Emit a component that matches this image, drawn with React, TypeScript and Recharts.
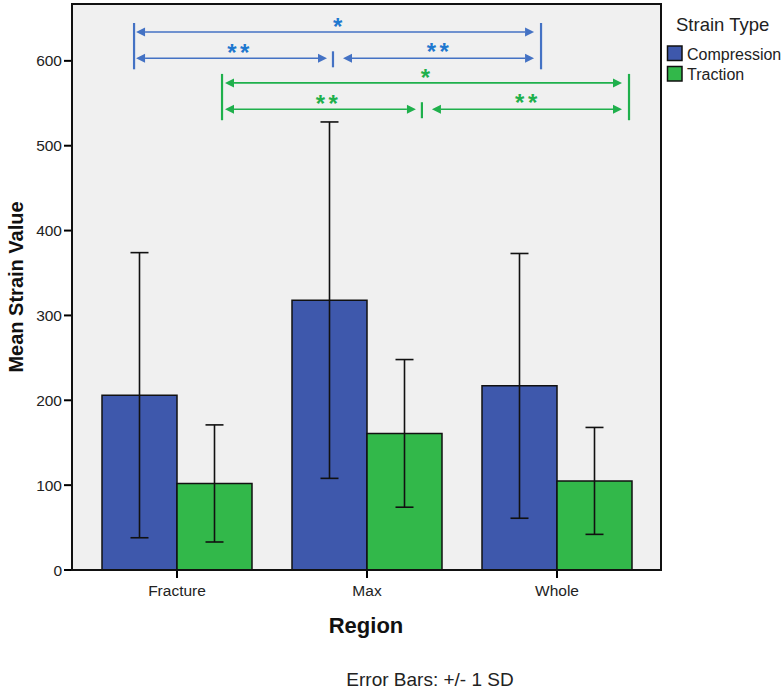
import React from "react";
import { Bar, BarChart, CartesianGrid, ErrorBar, XAxis, YAxis } from "recharts";

const regions = ["Fracture", "Max", "Whole"];
const compressionMean = [206, 318, 217];
const compressionSD = [168, 210, 156];
const tractionMean = [102, 161, 105];
const tractionSD = [69, 87, 63];
const yTicks = [0, 100, 200, 300, 400, 500, 600];
const yMax = 667;

// significance brackets: tick positions in category units, rows in data units
const blueTicks = [-0.226, 0.821, 1.916];
const greenTicks = [0.237, 1.289, 2.379];
const blueRows = [634, 603];
const greenRows = [574, 543];

const W = 782;
const H = 691;
const plot = { left: 72, top: 4, right: 661, bottom: 570 };
const padL = 10;
const padR = 9;
const band = (plot.right - plot.left - padL - padR) / regions.length;

const FONT = "Arial, 'Liberation Sans', sans-serif";
const BLUE = "#3e58ac";
const GREEN = "#32b84a";
const ANN_BLUE = "#4472c4";
const STAR_BLUE = "#1f78cf";
const ANN_GREEN = "#1fb04c";

const data = regions.map((r, i) => ({
  region: r,
  compression: compressionMean[i],
  compressionSD: compressionSD[i],
  traction: tractionMean[i],
  tractionSD: tractionSD[i],
}));

const xPx = (c: number) => plot.left + padL + band * (c + 0.5);
const yPx = (v: number) => plot.bottom - (v * (plot.bottom - plot.top)) / yMax;

function Arrow({ x1, x2, y, color }: { x1: number; x2: number; y: number; color: string }) {
  const L = 9;
  const h = 4.5;
  return (
    <g>
      <line x1={x1 + L} x2={x2 - L} y1={y} y2={y} stroke={color} strokeWidth={1.6} />
      <polygon points={`${x1},${y} ${x1 + L},${y - h} ${x1 + L},${y + h}`} fill={color} />
      <polygon points={`${x2},${y} ${x2 - L},${y - h} ${x2 - L},${y + h}`} fill={color} />
    </g>
  );
}

// y is the vertical centre of the asterisks
function Stars({ x, y, n, color }: { x: number; y: number; n: number; color: string }) {
  return (
    <text
      x={x + (n > 1 ? 2.5 : 0)}
      y={y + 14}
      textAnchor="middle"
      fontFamily="'Liberation Sans', Arial, sans-serif"
      fontWeight="bold"
      fontSize={24}
      fill={color}
      letterSpacing={n > 1 ? 3.5 : 0}
    >
      {"*".repeat(n)}
    </text>
  );
}

function Bracket({ ticks, rows, color, starColor, tipShift }: any) {
  const [a, m, b] = ticks.map(xPx);
  const r1 = yPx(rows[0]);
  const r2 = yPx(rows[1]);
  return (
    <g>
      <line x1={a} x2={a} y1={r1 - 9} y2={r2 + 11} stroke={color} strokeWidth={2.2} />
      <line x1={b} x2={b} y1={r1 - 9} y2={r2 + 11} stroke={color} strokeWidth={2.2} />
      <line x1={m} x2={m} y1={r2 - 7} y2={r2 + 9} stroke={color} strokeWidth={2.2} />
      <Arrow x1={a + tipShift} x2={b - 7} y={r1} color={color} />
      <Arrow x1={a + tipShift} x2={m - 6} y={r2} color={color} />
      <Arrow x1={m + 10} x2={b - 7} y={r2} color={color} />
      <Stars x={(a + b) / 2} y={r1 - 11} n={1} color={starColor} />
      <Stars x={(a + m) / 2 + 4} y={r2 - 11} n={2} color={starColor} />
      <Stars x={(m + b) / 2} y={r2 - 12} n={2} color={starColor} />
    </g>
  );
}

export default function App() {
  return (
    <div style={{ position: "absolute", left: 0, top: 0, width: W, height: H, background: "#fff", fontFamily: FONT }}>
      <BarChart
        width={W}
        height={H}
        data={data}
        margin={{ top: plot.top, right: W - plot.right, bottom: H - plot.bottom - 40, left: plot.left - 60 }}
        barCategoryGap={20}
        barGap={0}
      >
        <CartesianGrid fill="#f0f0f0" horizontal={false} vertical={false} />
        <XAxis
          dataKey="region"
          height={40}
          padding={{ left: padL, right: padR }}
          axisLine={{ stroke: "#000", strokeWidth: 2 }}
          tickLine={{ stroke: "#000", strokeWidth: 2 }}
          tickSize={8}
          tickMargin={7}
          tick={{ fill: "#222", fontSize: 15.5, fontFamily: FONT }}
        />
        <YAxis
          width={60}
          domain={[0, yMax]}
          ticks={yTicks}
          axisLine={{ stroke: "#000", strokeWidth: 2 }}
          tickLine={{ stroke: "#000", strokeWidth: 2 }}
          tickSize={8}
          tickMargin={2}
          tick={{ fill: "#222", fontSize: 15.5, fontFamily: FONT }}
        />
        <Bar dataKey="compression" fill={BLUE} stroke="#111" strokeWidth={1.5} isAnimationActive={false}>
          <ErrorBar dataKey="compressionSD" width={9} stroke="#111" strokeWidth={1.6} direction="y" isAnimationActive={false} />
        </Bar>
        <Bar dataKey="traction" fill={GREEN} stroke="#111" strokeWidth={1.5} isAnimationActive={false}>
          <ErrorBar dataKey="tractionSD" width={9} stroke="#111" strokeWidth={1.6} direction="y" isAnimationActive={false} />
        </Bar>
      </BarChart>
      <svg width={W} height={H} style={{ position: "absolute", left: 0, top: 0, pointerEvents: "none" }}>
        <rect
          x={plot.left}
          y={plot.top}
          width={plot.right - plot.left}
          height={plot.bottom - plot.top}
          fill="none"
          stroke="#111"
          strokeWidth={2}
        />
        <Bracket ticks={blueTicks} rows={blueRows} color={ANN_BLUE} starColor={STAR_BLUE} tipShift={2} />
        <Bracket ticks={greenTicks} rows={greenRows} color={ANN_GREEN} starColor={ANN_GREEN} tipShift={3} />
        <text
          transform={`translate(23, ${(plot.top + plot.bottom) / 2}) rotate(-90)`}
          textAnchor="middle"
          fontFamily={FONT}
          fontWeight="bold"
          fontSize={20}
          fill="#111"
        >
          Mean Strain Value
        </text>
        <text x={366} y={633} textAnchor="middle" fontFamily={FONT} fontWeight="bold" fontSize={22} fill="#111">
          Region
        </text>
        <text x={430} y={686} textAnchor="middle" fontFamily={FONT} fontSize={19} fill="#222">
          Error Bars: +/- 1 SD
        </text>
        <text x={676} y={31} fontFamily={FONT} fontSize={18.5} fill="#222">
          Strain Type
        </text>
        <rect x={667.5} y={46} width={14.5} height={14.5} fill={BLUE} stroke="#111" strokeWidth={1.5} />
        <text x={687} y={60} fontFamily={FONT} fontSize={16} fill="#222">
          Compression
        </text>
        <rect x={667.5} y={66.5} width={14.5} height={14.5} fill={GREEN} stroke="#111" strokeWidth={1.5} />
        <text x={687} y={80} fontFamily={FONT} fontSize={16} fill="#222">
          Traction
        </text>
      </svg>
    </div>
  );
}
